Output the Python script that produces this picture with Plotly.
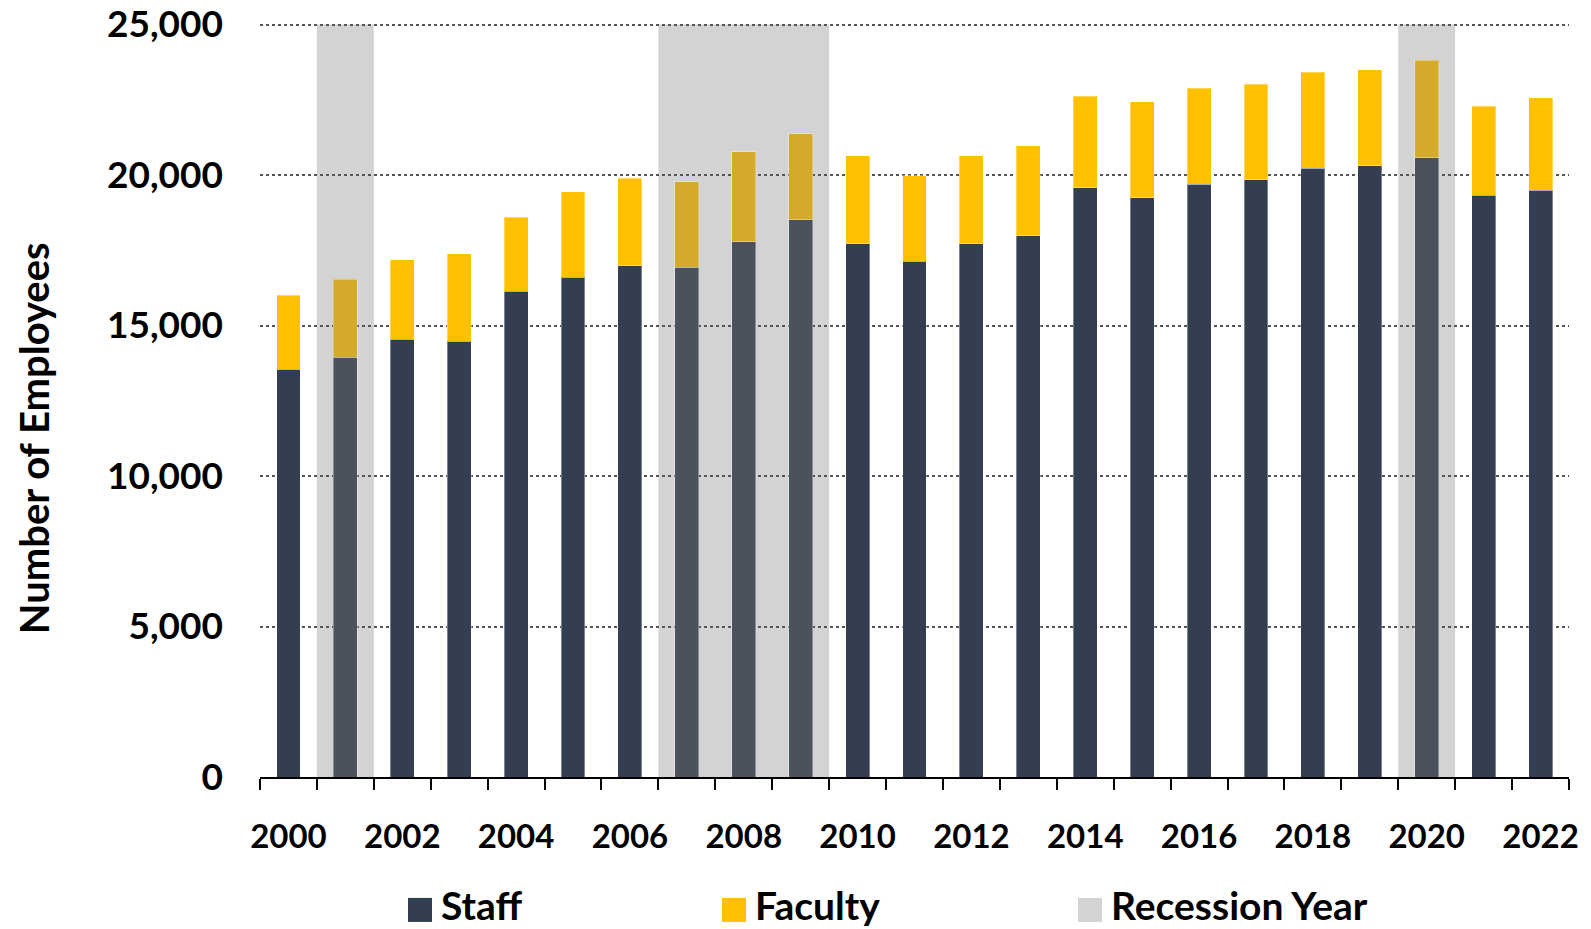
import plotly.graph_objects as go

years = list(range(2000, 2023))
staff = [13550, 13950, 14550, 14480, 16130, 16600, 16990, 16930, 17790, 18520, 17720, 17130,
         17720, 17990, 19570, 19240, 19700, 19840, 20230, 20300, 20570, 19320, 19500]
faculty = [2460, 2590, 2640, 2910, 2460, 2850, 2910, 2850, 2990, 2850, 2920, 2840,
           2920, 2990, 3050, 3200, 3190, 3180, 3190, 3190, 3250, 2970, 3060]
recession_years = [2001, 2007, 2008, 2009, 2020]
year_ticks = list(range(2000, 2023, 2))
y_ticks = [0, 5000, 10000, 15000, 20000, 25000]

STAFF = "#333F50"
FACULTY = "#FFC000"
STAFF_REC = "#4B525E"
FACULTY_REC = "#D4AA2A"
GREY = "#D3D3D3"
FONT = "Lato"

# the page body adds an 8px offset, so the figure is sized to fit inside the window
OFF = 8
Y_TOP = 25050  # a little headroom so the 25,000 gridline isn't clipped at the edge
W, H = 1591 - OFF, 929 - OFF
L, R, T, B = 260 - OFF, 22, 24 - OFF - 1.5, 152
PW, PH = W - L - R, H - T - B


def px_x(x):
    # window pixel -> paper coordinate
    return (x - 260) / PW


def px_y(y):
    return (777 - y) / PH


staff_colors = [STAFF_REC if y in recession_years else STAFF for y in years]
fac_colors = [FACULTY_REC if y in recession_years else FACULTY for y in years]

fig = go.Figure()
fig.add_trace(go.Bar(x=years, y=staff, name="Staff", width=0.42,
                     marker=dict(color=staff_colors, line=dict(color="rgba(255,255,255,0.35)", width=1))))
fig.add_trace(go.Bar(x=years, y=faculty, name="Faculty", width=0.42,
                     marker=dict(color=fac_colors, line=dict(color="rgba(255,255,255,0.35)", width=1))))

# recession shading: merge back-to-back years into one block so there are no seams
spans = []
for yr in recession_years:
    if spans and yr == spans[-1][1] + 1:
        spans[-1][1] = yr
    else:
        spans.append([yr, yr])
for first, last in spans:
    fig.add_shape(type="rect", xref="x", yref="y", x0=first - 0.5, x1=last + 0.5, y0=0, y1=y_ticks[-1],
                  fillcolor=GREY, line=dict(width=0), layer="below")

# legend drawn by hand so the swatches can be large
legend_items = [("Staff", STAFF, 408), ("Faculty", FACULTY, 722), ("Recession Year", GREY, 1078)]
for label, color, x in legend_items:
    fig.add_shape(type="rect", xref="paper", yref="paper", x0=px_x(x), x1=px_x(x + 24),
                  y0=px_y(922), y1=px_y(898), fillcolor=color, line=dict(width=0))
    fig.add_annotation(text=label, xref="paper", yref="paper", x=px_x(x + 31), y=px_y(905),
                       xanchor="left", yanchor="middle", showarrow=False,
                       font=dict(family=FONT, size=39, color="black", weight="bold"))

fig.add_annotation(text="Number of Employees", xref="paper", yref="paper", x=px_x(34), y=px_y(438),
                   textangle=-90, xanchor="center", yanchor="middle", showarrow=False,
                   font=dict(family=FONT, size=40, color="black", weight="bold"))

fig.update_layout(
    width=W, height=H,
    margin=dict(l=L, r=R, t=T, b=B, autoexpand=False),
    barmode="stack",
    showlegend=False,
    plot_bgcolor="white",
    paper_bgcolor="white",
    xaxis=dict(
        range=[1999.5, 2022.5],
        tickmode="array", tickvals=year_ticks,
        ticks="", ticklabelstandoff=30,
        tickfont=dict(family=FONT, size=33, color="black", weight="bold"),
        showline=True, linecolor="black", linewidth=1.5,
        showgrid=False, zeroline=False,
        minor=dict(tick0=1999.5, dtick=1, ticks="outside", ticklen=11,
                   tickcolor="black", tickwidth=1.5, showgrid=False),
    ),
    yaxis=dict(
        range=[0, Y_TOP],
        tickmode="array", tickvals=y_ticks,
        tickformat=",",
        ticks="", ticklabelstandoff=36, ticklabeloverflow="allow",
        tickfont=dict(family=FONT, size=37, color="black", weight="bold"),
        showgrid=True, gridcolor="#555555", griddash="dot", gridwidth=1.5,
        zeroline=False, showline=False,
    ),
)

fig.write_html("out.html")
